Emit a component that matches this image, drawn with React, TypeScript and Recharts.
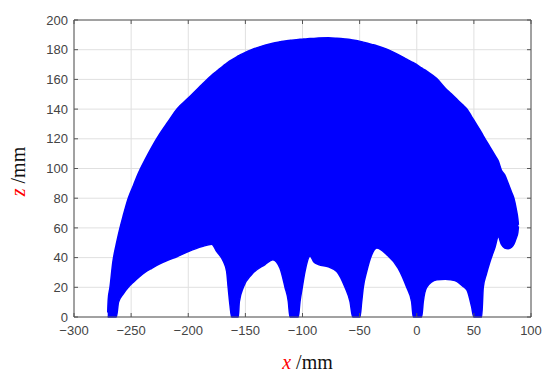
import { ComposedChart, Area, Line, XAxis, YAxis, CartesianGrid, Label } from 'recharts'

// workspace section in the x-z plane
const xTicks = [-300, -250, -200, -150, -100, -50, 0, 50, 100]
const zTicks = [0, 20, 40, 60, 80, 100, 120, 140, 160, 180, 200]

const xPos = [
  -270.5, -270, -268.5, -266, -263, -261, -257, -252.5, -248, -243.7, -238, -232, -225, -217.5, -210,
  -200, -188, -179.5, -175, -169.3, -166.4, -165, -163.5, -162, -156.2, -155.3, -151.8, -144.5, -132.8,
  -126, -119.7, -115.3, -112.4, -111, -103.7, -102.2, -100.2, -97.8, -93.4, -90, -86, -77.4, -70, -62.8,
  -58.4, -56, -49.7, -48.2, -46.8, -43.8, -39.4, -35, -26.3, -16.2, -8.8, -4.5, -3, 4.3, 5.7, 8.7, 17.5,
  25, 30, 35, 40, 44, 48, 50, 56.8, 58.2, 61, 64, 68.5, 71.4, 74, 77, 80, 83, 85, 87, 88.5, 89,
]
const zLow = [
  0, 0, 0, 0, 0, 10, 15.5, 20, 23.5, 26.5, 30, 32.8, 35.8, 38.4, 40.6,
  44, 47.4, 49, 44, 37.5, 30.7, 19.5, 8.2, 0, 0, 10.3, 20, 28.6, 35.3,
  38.5, 32.8, 20, 10.3, 0, 0, 10.3, 20, 30.7, 41, 37, 35.3, 33.8, 30.7, 20,
  10.3, 0, 0, 10.3, 20, 30.7, 42, 46.5, 42, 32.8, 20, 10.3, 0, 0, 10.3, 20, 25,
  25.5, 25, 24, 21, 18, 7, 0, 0, 20, 29, 37, 47, 54, 49, 46.5, 46, 47, 49, 53, 57, 61,
]
const zHigh = [
  3, 12, 20, 37, 49, 56, 68, 80, 88.6, 96.8, 105.7, 114.3, 123.3, 131.7, 140,
  147.4, 156.6, 162.8, 165.6, 169.2, 170.8, 171.6, 172.5, 173.2, 175.8, 176.2, 177.5, 180, 183.1,
  184.4, 185.3, 185.9, 186.2, 186.3, 186.9, 187, 187.1, 187.2, 187.5, 187.6, 187.8, 188, 187.7, 187.2,
  186.8, 186.5, 185.6, 185.3, 185.1, 184.5, 183.6, 182.7, 180.4, 176.7, 173.6, 171.8, 171.2, 167.7, 167, 165.5, 160.5,
  154, 150.4, 146.7, 143, 140, 135, 132.5, 124, 122, 118.5, 114.6, 108.8, 105, 99, 95.7, 90, 84, 80, 73, 66, 62,
]

const data = xPos.map((x, i) => ({ x, z: [zLow[i], zHigh[i]], top: zHigh[i] }))

const axisColor = '#555'
const labelColor = '#444'
const sans = '"Liberation Sans", Arial, sans-serif'
const serif = '"Liberation Serif", "Times New Roman", serif'

const fmt = (v: number) => String(v).replace('-', '\u2212')
const noLabel = () => ''
const tickStyle = { fill: labelColor, fontSize: 13, fontFamily: sans }

const XTitle = (props: any) => {
  const { x, y, width } = props.viewBox
  return (
    <text x={x + width / 2 + 5} y={y + 52} textAnchor="middle" fontSize={20} fontFamily={serif} fill="#111">
      <tspan fill="#ff0000" fontStyle="italic">x</tspan>
      <tspan> /mm</tspan>
    </text>
  )
}

const ZTitle = (props: any) => {
  const { x, y, height } = props.viewBox
  const cx = x + 11
  const cy = y + height / 2 + 3
  return (
    <text x={cx} y={cy} transform={`rotate(-90, ${cx}, ${cy})`} textAnchor="middle" fontSize={20} fontFamily={serif} fill="#111">
      <tspan fill="#ff0000" fontStyle="italic">z</tspan>
      <tspan> /mm</tspan>
    </text>
  )
}

export default function App() {
  return (
    <div style={{ position: 'absolute', left: 0, top: 0, width: 550, height: 382, background: '#fff' }}>
      <ComposedChart width={550} height={382} data={data} margin={{ top: 19, right: 18, left: 14, bottom: 35 }}>
        <CartesianGrid stroke="#e0e0e0" />
        <XAxis
          dataKey="x"
          type="number"
          domain={[-300, 100]}
          ticks={xTicks}
          interval={0}
          height={30}
          tickSize={-4}
          tickMargin={13}
          stroke={axisColor}
          tick={tickStyle}
          tickFormatter={fmt}
        >
          <Label content={<XTitle />} />
        </XAxis>
        <YAxis
          type="number"
          domain={[0, 200]}
          ticks={zTicks}
          interval={0}
          width={60}
          tickSize={-4}
          tickMargin={10}
          stroke={axisColor}
          tick={tickStyle}
          tickFormatter={fmt}
        >
          <Label content={<ZTitle />} />
        </YAxis>
        {/* top and right axes only close the box, with inward ticks */}
        <XAxis
          xAxisId="top"
          orientation="top"
          dataKey="x"
          type="number"
          domain={[-300, 100]}
          ticks={xTicks}
          interval={0}
          height={1}
          tickSize={-4}
          tickFormatter={noLabel}
          stroke={axisColor}
        />
        <YAxis
          yAxisId="right"
          orientation="right"
          type="number"
          domain={[0, 200]}
          ticks={zTicks}
          interval={0}
          width={1}
          tickSize={-4}
          tickFormatter={noLabel}
          stroke={axisColor}
        />
        <Area
          type="monotone"
          dataKey="z"
          fill="#0000ff"
          fillOpacity={1}
          stroke="#0000ff"
          strokeWidth={1.5}
          dot={false}
          activeDot={false}
          isAnimationActive={false}
        />
        <Line
          xAxisId="top"
          yAxisId="right"
          dataKey="top"
          stroke="none"
          dot={false}
          activeDot={false}
          legendType="none"
          isAnimationActive={false}
        />
      </ComposedChart>
    </div>
  )
}
